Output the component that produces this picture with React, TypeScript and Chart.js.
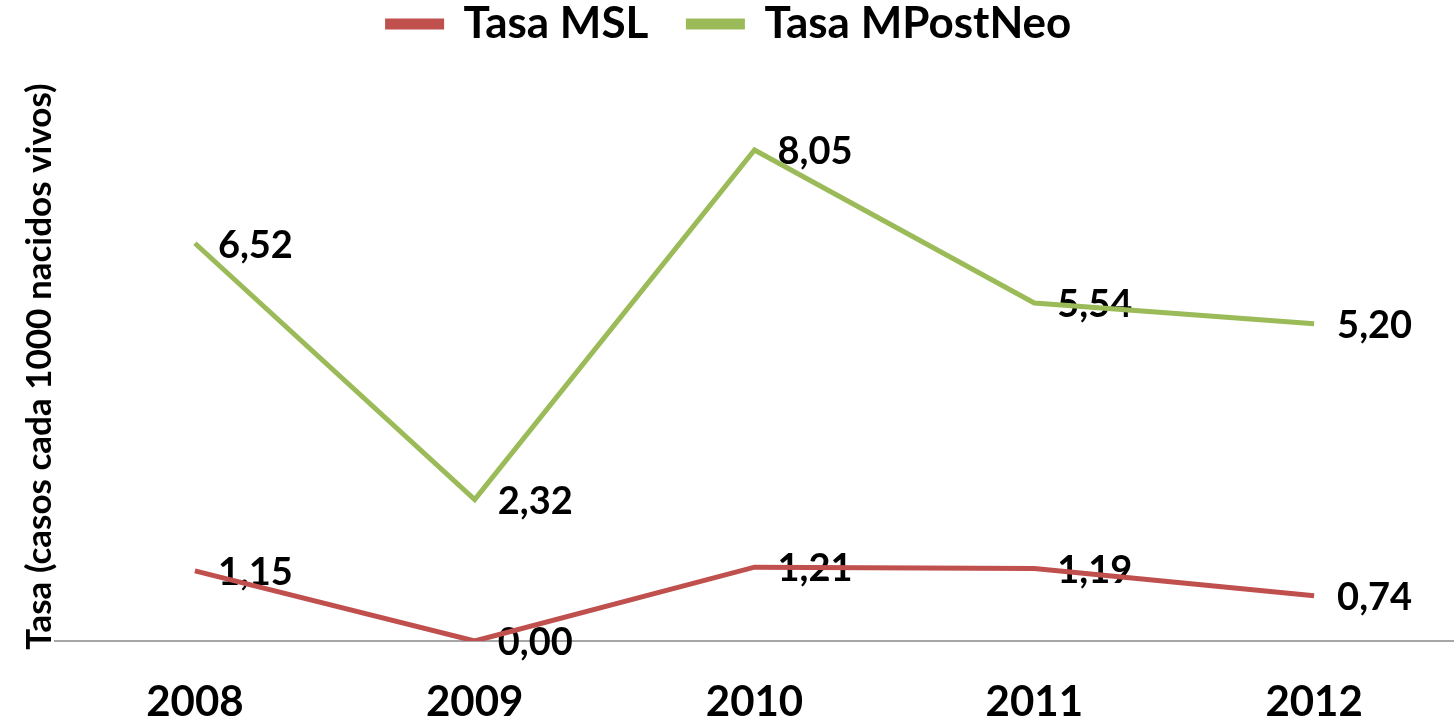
import React, { useEffect, useRef } from "react";
import { Chart, registerables } from "chart.js";

Chart.register(...registerables);

const years = ["2008", "2009", "2010", "2011", "2012"];
const tasaMSL = [1.15, 0.0, 1.21, 1.19, 0.74];
const tasaMPostNeo = [6.52, 2.32, 8.05, 5.54, 5.2];
const seriesNames = ["Tasa MSL", "Tasa MPostNeo"];
const yTitle = "Tasa (casos cada 1000 nacidos vivos)";

const FONT = "Lato, 'Open Sans', sans-serif";

const labelPlugin = {
  id: "valueLabels",
  beforeDatasetsDraw(chart: any) {
    const ctx = chart.ctx;
    ctx.save();
    ctx.font = `bold 38px ${FONT}`;
    ctx.fillStyle = "#000";
    ctx.textAlign = "left";
    ctx.textBaseline = "middle";
    chart.data.datasets.forEach((ds: any, di: number) => {
      const meta = chart.getDatasetMeta(di);
      meta.data.forEach((pt: any, i: number) => {
        const v = ds.data[i] as number;
        const txt = v.toFixed(2).replace(".", ",");
        ctx.fillText(txt, pt.x + 23, pt.y + 2);
      });
    });
    ctx.restore();
  },
};

const legendSpace = {
  id: "legendSpace",
  beforeInit(chart: any) {
    const lg = chart.legend;
    if (!lg) return;
    const orig = lg.fit;
    lg.fit = function () {
      orig.call(this);
      this.height = 130;
    };
  },
};

export default function App() {
  const ref = useRef<HTMLCanvasElement>(null);
  useEffect(() => {
    document.body.style.margin = "0";
    const chart = new Chart(ref.current!, {
      type: "line",
      data: {
        labels: years,
        datasets: [
          {
            label: seriesNames[0],
            data: tasaMSL,
            borderColor: "#C0504D",
            backgroundColor: "#C0504D",
            borderWidth: 5,
            pointRadius: 0,
            tension: 0,
          },
          {
            label: seriesNames[1],
            data: tasaMPostNeo,
            borderColor: "#9BBB59",
            backgroundColor: "#9BBB59",
            borderWidth: 5,
            pointRadius: 0,
            tension: 0,
          },
        ],
      },
      options: {
        responsive: false,
        animation: false,
        layout: { padding: { top: -38, right: -5, bottom: 0, left: 0 } },
        plugins: {
          legend: {
            position: "top",
            labels: {
              boxWidth: 54,
              boxHeight: 6,
              padding: 40,
              color: "#000",
              font: { family: FONT, size: 44, weight: "bold", lineHeight: 1 },
            },
          },
          tooltip: { enabled: false },
        },
        scales: {
          x: {
            offset: true,
            grid: { display: false, drawTicks: false },
            border: { display: true, color: "#A6A6A6", width: 2 },
            ticks: {
              color: "#000",
              padding: 40,
              font: { family: FONT, size: 42, weight: "bold", lineHeight: 1 },
            },
            afterFit(scale: any) {
              scale.height = 82;
            },
          },
          y: {
            min: 0,
            max: 9,
            grid: { display: false, drawTicks: false },
            border: { display: false },
            ticks: { display: false },
            title: {
              display: true,
              text: yTitle,
              color: "#000",
              padding: { top: 22, bottom: 0 },
              font: { family: FONT, size: 35, weight: "bold", lineHeight: 1 },
            },
            afterFit(scale: any) {
              scale.width = 55;
            },
          },
        },
      },
      plugins: [labelPlugin, legendSpace],
    });
    return () => chart.destroy();
  }, []);
  return (
    <div style={{ position: "absolute", left: 0, top: 0, width: 1454, height: 723 }}>
      <canvas ref={ref} width={1454} height={723} />
    </div>
  );
}
